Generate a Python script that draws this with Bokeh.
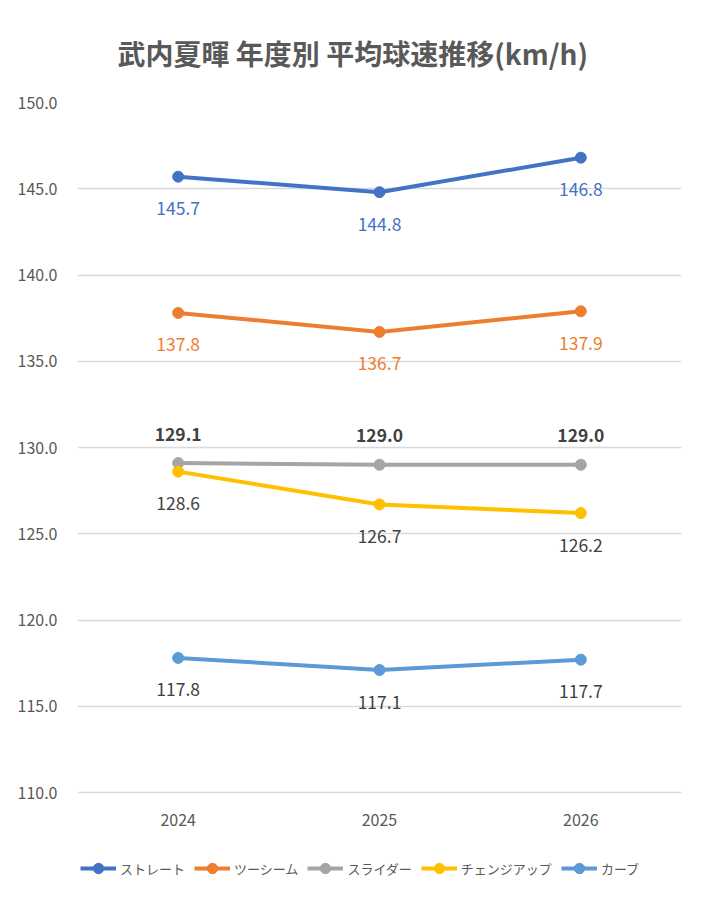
from bokeh.plotting import figure
from bokeh.models import FactorRange, Range1d, Legend, LegendItem, FixedTicker, NumeralTickFormatter, ColumnDataSource
from bokeh.core.properties import value
from bokeh.embed import file_html
from bokeh.resources import INLINE

years = ["2024", "2025", "2026"]
series_names = ["ストレート", "ツーシーム", "スライダー", "チェンジアップ", "カーブ"]
straight = [145.7, 144.8, 146.8]
twoseam = [137.8, 136.7, 137.9]
slider = [129.1, 129.0, 129.0]
changeup = [128.6, 126.7, 126.2]
curve = [117.8, 117.1, 117.7]
y_ticks = [110, 115, 120, 125, 130, 135, 140, 145, 150]

colors = ["#4472C4", "#ED7D31", "#A5A5A5", "#FFC000", "#5B9BD5"]
label_colors = ["#4472C4", "#ED7D31", "#404040", "#404040", "#404040"]
label_above = [False, False, True, False, False]
label_bold = [False, False, True, False, False]
all_series = [straight, twoseam, slider, changeup, curve]

FONT = "Noto Sans CJK JP"

# frame extends below the 110 gridline to hold the legend
PX_PER_UNIT = 690 / 40.0
y_lo = 110 - 104 / PX_PER_UNIT

p = figure(frame_width=604, frame_height=794,
           x_range=FactorRange(factors=years, range_padding=0),
           y_range=Range1d(y_lo, 150), output_backend="svg", toolbar_location=None,
           min_border_left=77, min_border_right=16, min_border_top=91, min_border_bottom=8)

p.title.text = "武内夏暉 年度別 平均球速推移(km/h)"
p.title.align = "left"
p.title.offset = 40
p.title.text_font = FONT
p.title.text_font_size = "28px"
p.title.text_font_style = "bold"
p.title.text_color = "#595959"
p.title.standoff = 60

p.outline_line_color = None
p.xgrid.grid_line_color = None
p.ygrid.grid_line_color = "#d9d9d9"
p.ygrid.grid_line_width = 1.3
p.yaxis.ticker = FixedTicker(ticks=y_ticks)
p.yaxis.formatter = NumeralTickFormatter(format="0.0")
p.xaxis.fixed_location = 110
for ax in (p.xaxis, p.yaxis):
    ax.axis_line_color = None
    ax.major_tick_line_color = None
    ax.minor_tick_line_color = None
    ax.major_label_text_color = "#595959"
    ax.major_label_text_font = FONT
    ax.major_label_text_font_size = "16px"
p.yaxis.major_label_standoff = 14
p.xaxis.major_label_standoff = 15

items = []
for name, vals, c, lc, above, bold in zip(series_names, all_series, colors, label_colors, label_above, label_bold):
    src = ColumnDataSource(dict(x=years, y=vals, t=[f"{v:.1f}" for v in vals]))
    lr = p.line("x", "y", source=src, line_color=c, line_width=4)
    sr = p.scatter("x", "y", source=src, size=11, fill_color=c, line_color=c)
    p.text("x", "y", text="t", source=src, text_color=lc, text_font=value(FONT),
           text_font_size="17.5px", text_font_style="bold" if bold else "normal",
           text_align="center", text_baseline="middle",
           y_offset=-29 if above else 32)
    items.append(LegendItem(label=name, renderers=[lr, sr]))

legend = Legend(items=items, orientation="horizontal", location=(3, 15),
                glyph_width=36, glyph_height=26, label_standoff=4, spacing=9,
                label_text_font=FONT, label_text_font_size="13px", label_text_color="#595959",
                border_line_color=None, background_fill_alpha=0, margin=0, padding=0)
p.add_layout(legend, "center")

open("out.html", "w").write(file_html(p, INLINE))
